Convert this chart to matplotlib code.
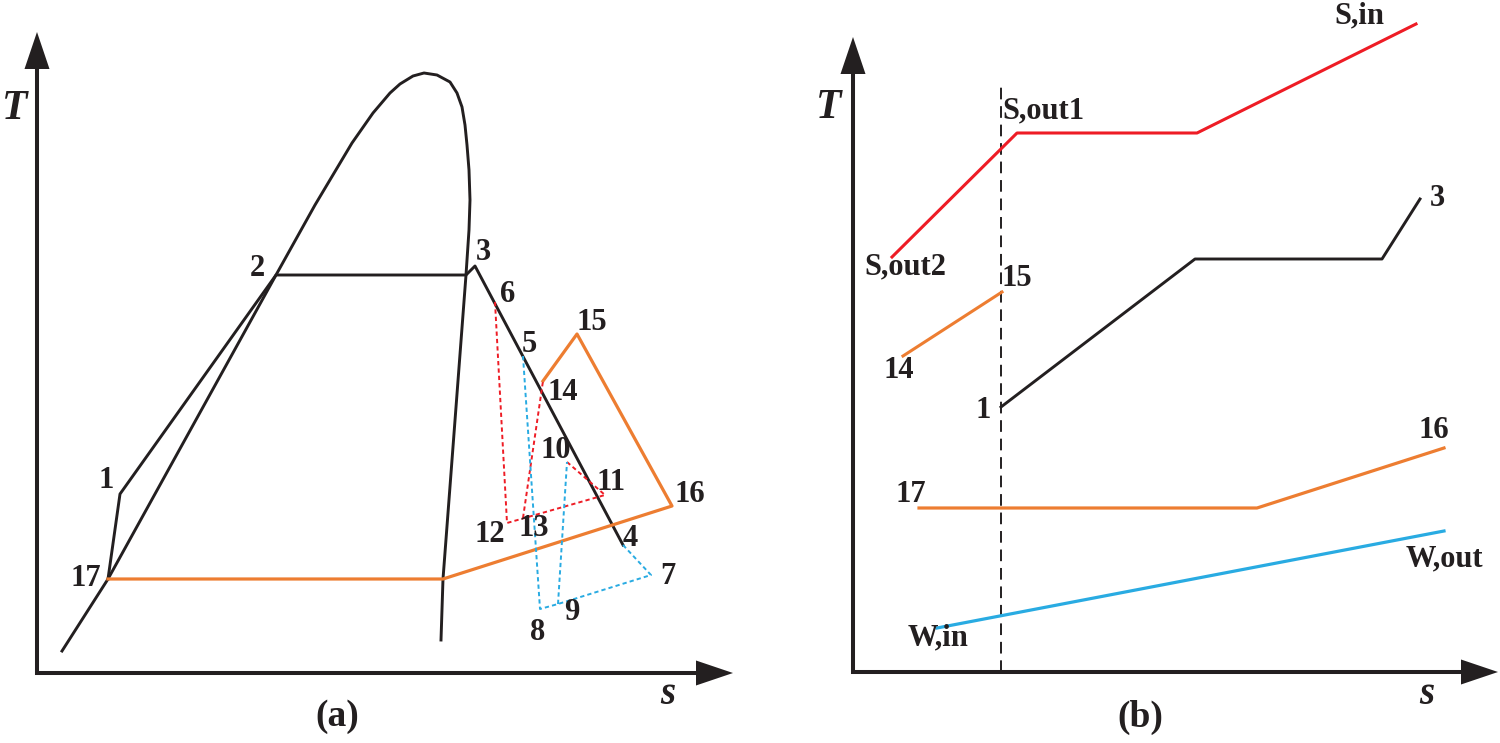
import matplotlib
matplotlib.use("Agg")
import matplotlib.pyplot as plt

plt.rcParams['font.family'] = ['Liberation Serif', 'DejaVu Serif']
plt.rcParams['font.weight'] = 'bold'

# ---- panel (a) : T-s diagram (arbitrary units, origin at the axis corner) ----
dome_s = [25, 71, 239, 278, 315, 336, 353, 363, 376, 387, 400, 413, 420, 425,
          428, 430, 432, 433, 432, 430, 429, 406, 404]
dome_T = [22, 94, 398, 468, 530, 560, 580, 589, 597, 600, 598, 591, 580, 566,
          548, 528, 503, 473, 443, 413, 398, 94, 33]

# state points
pt_names = ['1', '2', '3', '4', '5', '6', '7', '8', '9', '10', '11', '12',
            '13', '14', '15', '16', '17']
pt_s = [83, 239, 438, 586, 486, 458, 614, 503, 521, 530, 568, 470, 486, 506,
        540, 635, 71]
pt_T = [179, 398, 407, 128, 317, 371, 98, 64, 69, 211, 178, 150, 155, 292,
        339, 167, 94]
sat_vap_s, sat_vap_T = 429, 398     # end of evaporation on the dome
sat_liq_s, sat_liq_T = 406, 94      # end of condensation on the dome

# label offsets (pixels)
pt_dx = [-14, -19, 8, 7, 6, 13, 17, -2, 14, -11, 6, -17, 11, 20, 15, 18, -22]
pt_dy = [13, 7, 13, 7, 12, 7, -1, -23, -8, 12, 13, -12, -10, -12, 12, 11, 0]

# ---- panel (b) : temperature profiles ----
S_s = [39, 164, 344, 563]
S_T = [415, 539, 539, 648]
wf_s = [148, 342, 529, 567]
wf_T = [265, 413, 413, 473]
reg_s = [50, 149]
reg_T = [316, 380]
cond_s = [66, 404, 591]
cond_T = [164, 164, 224]
W_s = [84, 591]
W_T = [44, 141]
pinch_s = 148
pinch_top = 585

K = '#231F20'
RED = '#EE1C25'
ORG = '#ED7D31'
BLU = '#29ABE2'

fig = plt.figure(figsize=(15, 7.43), dpi=100)


def draw_axes(ax, s_end, T_end, head=37, half=12.5):
    ax.plot([0, 0, s_end - head], [T_end - head, 0, 0], color=K, lw=2.9,
            solid_joinstyle='miter', solid_capstyle='butt', clip_on=False)
    ax.fill([s_end - head, s_end, s_end - head], [-half, 0, half], color=K, lw=0, clip_on=False)
    ax.fill([-half, 0, half], [T_end - head, T_end, T_end - head], color=K, lw=0, clip_on=False)


def P(name):
    i = pt_names.index(name)
    return pt_s[i], pt_T[i]


def path(names):
    xs, ys = [], []
    for n in names:
        if isinstance(n, tuple):
            xs.append(n[0]); ys.append(n[1])
        else:
            a, b = P(n)
            xs.append(a); ys.append(b)
    return xs, ys


# ---------------- (a) ----------------
axa = fig.add_axes([37 / 1500, 70 / 743, 700 / 1500, 650 / 743])
axa.set_xlim(0, 700)
axa.set_ylim(0, 650)
axa.axis('off')
draw_axes(axa, 696, 641)

lw = 2.1
axa.plot(dome_s, dome_T, color=K, lw=lw, clip_on=False)
xs, ys = path(['17', '1', '2', (sat_vap_s, sat_vap_T), '3', '4'])
axa.plot(xs, ys, color=K, lw=lw, clip_on=False)
xs, ys = path(['17', (sat_liq_s, sat_liq_T), '16', '15', '14'])
axa.plot(xs, ys, color=ORG, lw=2.3, clip_on=False)

dot = (0, (2.2, 1.6))
for seq in (['6', '12', '11'], ['13', '14'], ['10', '11']):
    xs, ys = path(seq)
    axa.plot(xs, ys, color=RED, lw=1.4, ls=dot)
for seq in (['5', '8', '9', '7', '4'], ['9', '10']):
    xs, ys = path(seq)
    axa.plot(xs, ys, color=BLU, lw=1.4, ls=dot)

for n, dx, dy in zip(pt_names, pt_dx, pt_dy):
    axa.annotate(n, P(n), xytext=(dx, dy), textcoords='offset pixels',
                 ha='center', va='center', fontsize=22, color=K)

axa.text(-22, 564, 'T', fontsize=30, style='italic', ha='center', va='center', color=K)
axa.text(631, -21, 's', fontsize=28, style='italic', ha='center', va='center', color=K)
axa.text(300, -43, '(a)', fontsize=27, ha='center', va='center', color=K)

# ---------------- (b) ----------------
axb = fig.add_axes([853 / 1500, 71 / 743, 650 / 1500, 650 / 743])
axb.set_xlim(0, 650)
axb.set_ylim(0, 650)
axb.axis('off')
draw_axes(axb, 645, 635)

axb.plot([pinch_s, pinch_s], [0, pinch_top], color=K, lw=1.4, ls=(0, (6, 3.5)))
axb.plot(S_s, S_T, color=RED, lw=2.2, clip_on=False)
axb.plot(wf_s, wf_T, color=K, lw=2.1)
axb.plot(reg_s, reg_T, color=ORG, lw=2.2)
axb.plot(cond_s, cond_T, color=ORG, lw=2.3)
axb.plot(W_s, W_T, color=BLU, lw=2.3)

lab_b = [('S,in', S_s[-1], S_T[-1], -57, 8),
         ('S,out1', S_s[1], S_T[1], 26, 22),
         ('S,out2', S_s[0], S_T[0], 13, -10),
         ('1', wf_s[0], wf_T[0], -18, -3),
         ('3', wf_s[-1], wf_T[-1], 17, 1),
         ('14', reg_s[0], reg_T[0], -4, -15),
         ('15', reg_s[-1], reg_T[-1], 15, 13),
         ('17', cond_s[0], cond_T[0], -8, 14),
         ('16', cond_s[-1], cond_T[-1], -10, 18),
         ('W,in', W_s[0], W_T[0], 1, -10),
         ('W,out', W_s[-1], W_T[-1], 0, -28)]
for txt, x, y, dx, dy in lab_b:
    axb.annotate(txt, (x, y), xytext=(dx, dy), textcoords='offset pixels',
                 ha='center', va='center', fontsize=22, color=K)

axb.text(-24, 564, 'T', fontsize=30, style='italic', ha='center', va='center', color=K)
axb.text(574, -23, 's', fontsize=28, style='italic', ha='center', va='center', color=K)
axb.text(287, -45, '(b)', fontsize=27, ha='center', va='center', color=K)

fig.savefig('out.png', dpi=100)
